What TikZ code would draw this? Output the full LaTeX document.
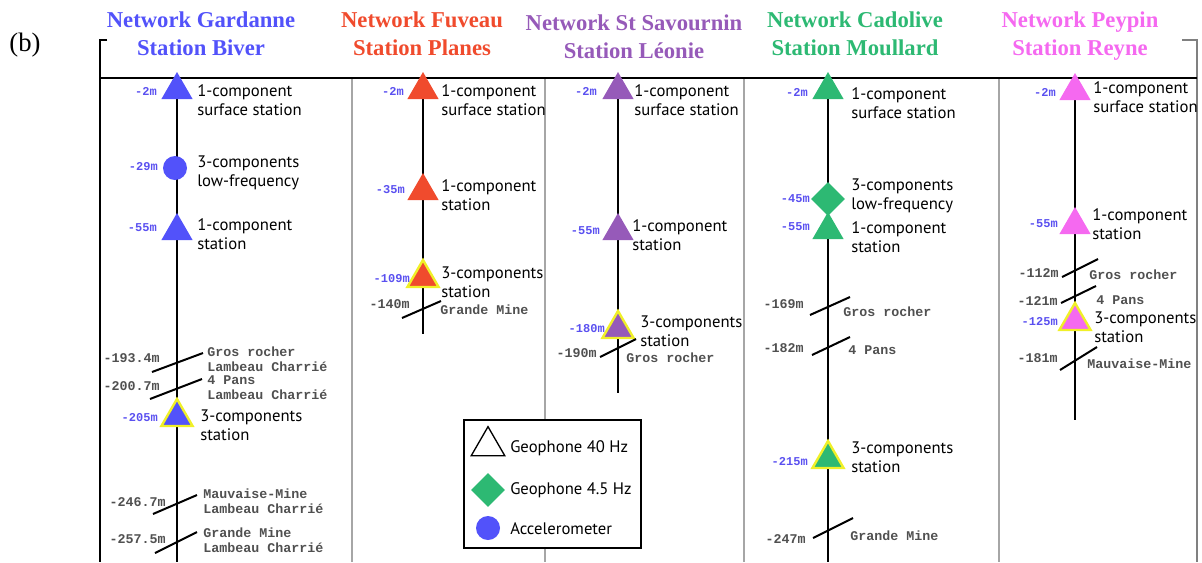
\documentclass[tikz,border=0pt]{standalone}
\usepackage{fontspec}
\setmainfont{Liberation Serif}
\newfontfamily\labfont{PT Sans}
\newfontfamily\depthfont{Liberation Mono}
\usetikzlibrary{shapes.geometric}

\definecolor{colgar}{RGB}{82,82,250}
\definecolor{colfuv}{RGB}{240,75,45}
\definecolor{colsav}{RGB}{150,90,185}
\definecolor{colcad}{RGB}{45,185,115}
\definecolor{colpey}{RGB}{245,105,240}
\definecolor{dblue}{RGB}{90,80,240}
\definecolor{rgrey}{RGB}{80,80,80}
\definecolor{yel}{RGB}{240,240,40}

\begin{document}
\begin{tikzpicture}[x=0.75pt,y=-0.75pt,
  tri/.style={regular polygon, regular polygon sides=3, minimum size=27pt, inner sep=0pt},
  tribig/.style={tri, draw=yel, line width=1.8pt},
  dia/.style={diamond, minimum size=25.5pt, inner sep=0pt},
  acc/.style={circle, minimum size=18pt, inner sep=0pt},
  head/.style={font=\bfseries\fontsize{17}{21}\selectfont, align=center},
  desc/.style={font=\labfont\fontsize{12.5}{14.3}\selectfont, anchor=west, align=left, inner sep=0pt},
  depth/.style={font=\depthfont\bfseries\fontsize{9}{10}\selectfont, text=dblue, anchor=east, inner sep=0pt},
  depthg/.style={depth, font=\depthfont\bfseries\fontsize{10}{11}\selectfont, text=rgrey},
  rock/.style={font=\depthfont\bfseries\fontsize{10}{11.25}\selectfont, text=rgrey, anchor=west, align=left, inner sep=0pt},
  hole/.style={line width=1.5pt},
  fault/.style={line width=1.5pt}]
\useasboundingbox (0,0) rectangle (1202,562);

% frame
\node[font=\fontsize{20}{24}\selectfont] (lab) at (25,45) {(b)};
\draw[line width=1.5pt] (107,40) -- (100,40) -- (100,562);
\draw[gray, line width=0.8pt] (1182,40) -- (1197,40) -- (1197,562);
\foreach \xs in {352,545,744,999}
  \draw[gray!70, line width=0.8pt] (\xs,78) -- (\xs,562);
\draw[line width=2.2pt] (100,78) -- (1197,78);

% headers
\node[head, text=colgar] (hgar) at (201,34) {Network Gardanne\\Station Biver};
\node[head, text=colfuv] (hfuv) at (422,34) {Network Fuveau\\Station Planes};
\node[head, text=colsav] (hsav) at (634,37) {Network St Savournin\\Station Léonie};
\node[head, text=colcad] (hcad) at (855,34) {Network Cadolive\\Station Moullard};
\node[head, text=colpey] (hpey) at (1080,36) {Network Peypin\\Station Reyne};

% boreholes
\draw[hole] (177,78) -- (177,562);
\draw[hole] (423,78) -- (423,334);
\draw[hole] (618,78) -- (618,393);
\draw[hole] (828,78) -- (828,562);
\draw[hole] (1075,78) -- (1075,420);

% Gardanne
\node[tri, fill=colgar] (gar2) at (177,90) {};
\node[depth] at (157,91) {-2m};
\node[desc] at (197,100) {1-component\\surface station};
\node[acc, fill=colgar] (gar29) at (175,168) {};
\node[depth] at (158,167) {-29m};
\node[desc] at (197,173) {3-components\\low-frequency};
\node[tri, fill=colgar] (gar55) at (177,231) {};
\node[depth] at (157,228) {-55m};
\node[desc] at (197,234) {1-component\\station};
\draw[fault] (152,372) -- (203,353);
\node[depthg] at (160,358) {-193.4m};
\node[rock] at (207,359) {Gros rocher\\Lambeau Charrié};
\draw[fault] (150,399) -- (202,379);
\node[depthg] at (160,386) {-200.7m};
\node[rock] at (207,388) {4 Pans\\Lambeau Charrié};
\node[tribig, fill=colgar] (gar205) at (177,417) {};
\node[depth] at (158,418) {-205m};
\node[desc] at (200,425) {3-components\\station};
\draw[fault] (153,514) -- (197,495);
\node[depthg] at (166,502) {-246.7m};
\node[rock] at (203,501) {Mauvaise-Mine\\Lambeau Charrié};
\draw[fault] (155,553) -- (197,532);
\node[depthg] at (166,539) {-257.5m};
\node[rock] at (203,540) {Grande Mine\\Lambeau Charrié};

% Fuveau
\node[tri, fill=colfuv] (fuv2) at (423,90) {};
\node[depth] at (404,91) {-2m};
\node[desc] at (441,100) {1-component\\surface station};
\node[tri, fill=colfuv] (fuv35) at (423,191) {};
\node[depth] at (405,190) {-35m};
\node[desc] at (441,195) {1-component\\station};
\node[tribig, fill=colfuv] (fuv109) at (423,278) {};
\node[depth] at (410,279) {-109m};
\node[desc] at (441,282) {3-components\\station};
\draw[fault] (402,318) -- (441,301);
\node[depthg] at (410,304) {-140m};
\node[rock] at (440,310) {Grande Mine};

% St Savournin
\node[tri, fill=colsav] (sav2) at (618,90) {};
\node[depth] at (597,91) {-2m};
\node[desc] at (634,100) {1-component\\surface station};
\node[tri, fill=colsav] (sav55) at (618,231) {};
\node[depth] at (600,231) {-55m};
\node[desc] at (632,235) {1-component\\station};
\node[tribig, fill=colsav] (sav180) at (618,329) {};
\node[depth] at (605,329) {-180m};
\node[desc] at (640,331) {3-components\\station};
\draw[fault] (600,357) -- (636,339);
\node[depthg] at (597,353) {-190m};
\node[rock] at (626,358) {Gros rocher};

% Cadolive
\node[tri, fill=colcad] (cad2) at (828,90) {};
\node[depth] at (808,92) {-2m};
\node[desc] at (851,103) {1-component\\surface station};
\node[dia, fill=colcad] (cad45) at (828,199) {};
\node[depth] at (810,199) {-45m};
\node[desc] at (851,196) {3-components\\low-frequency};
\node[tri, fill=colcad] (cad55) at (828,230) {};
\node[depth] at (810,227) {-55m};
\node[desc] at (851,237) {1-component\\station};
\draw[fault] (810,315) -- (850,297);
\node[depthg] at (804,304) {-169m};
\node[rock] at (843,312) {Gros rocher};
\draw[fault] (812,355) -- (850,337);
\node[depthg] at (804,348) {-182m};
\node[rock] at (848,350) {4 Pans};
\node[tribig, fill=colcad] (cad215) at (828,459) {};
\node[depth] at (808,462) {-215m};
\node[desc] at (851,457) {3-components\\station};
\draw[fault] (813,538) -- (853,518);
\node[depthg] at (806,539) {-247m};
\node[rock] at (850,536) {Grande Mine};

% Peypin
\node[tri, fill=colpey] (pey2) at (1075,91) {};
\node[depth] at (1056,92) {-2m};
\node[desc] at (1093,97) {1-component\\surface station};
\node[tri, fill=colpey] (pey55) at (1075,225) {};
\node[depth] at (1058,224) {-55m};
\node[desc] at (1092,224) {1-component\\station};
\draw[fault] (1062,277) -- (1098,259);
\node[depthg] at (1059,273) {-112m};
\node[rock] at (1089,275) {Gros rocher};
\draw[fault] (1061,303) -- (1096,286);
\node[depthg] at (1058,301) {-121m};
\node[rock] at (1096,300) {4 Pans};
\node[tribig, fill=colpey] (pey125) at (1075,321) {};
\node[depth] at (1058,322) {-125m};
\node[desc] at (1094,327) {3-components\\station};
\draw[fault] (1060,370) -- (1097,347);
\node[depthg] at (1058,358) {-181m};
\node[rock] at (1087,364) {Mauvaise-Mine};

% legend
\draw[line width=2pt, fill=white] (464,420) rectangle (641,548);
\node[tri, draw, line width=1pt, minimum size=29pt] (legtri) at (488,446) {};
\node[desc] at (510,448) {Geophone 40 Hz};
\node[dia, fill=colcad] (legdia) at (488,490) {};
\node[desc] at (510,490) {Geophone 4.5 Hz};
\node[acc, fill=colgar] (legacc) at (488,528) {};
\node[desc] at (510,529) {Accelerometer};
\end{tikzpicture}
\end{document}
